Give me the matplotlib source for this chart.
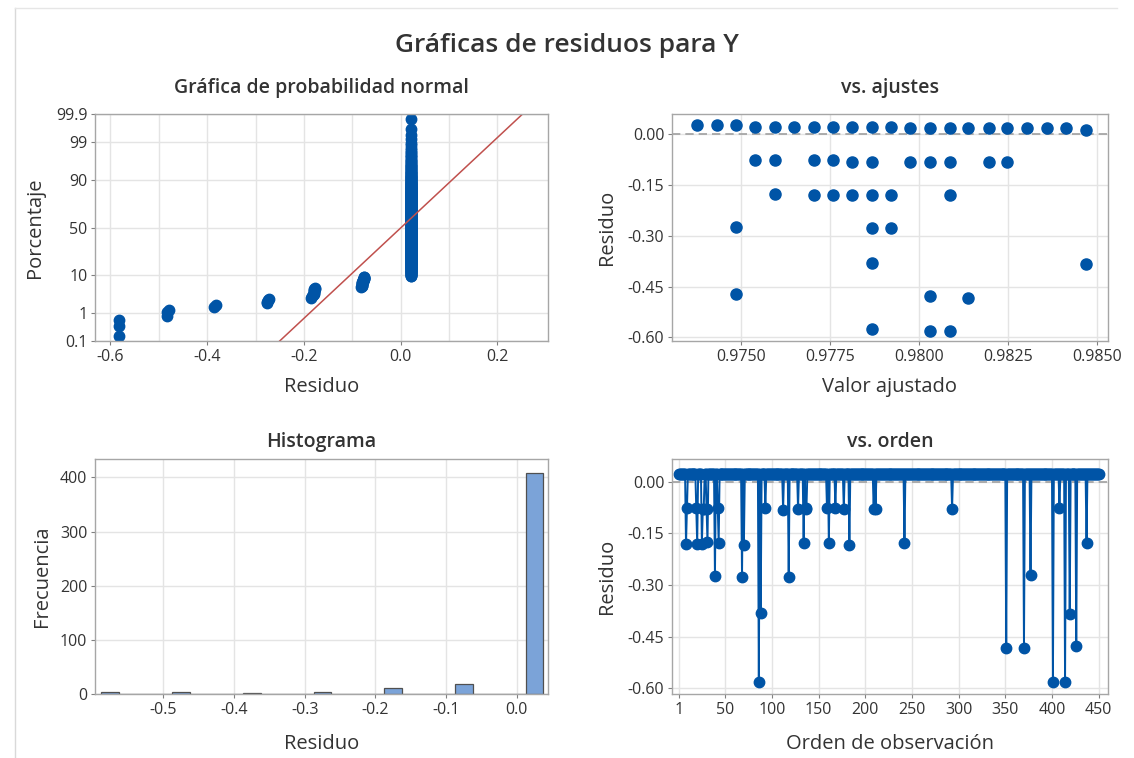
from statistics import NormalDist

import matplotlib
matplotlib.use("Agg")
import matplotlib.pyplot as plt
import numpy as np
from matplotlib.lines import Line2D

plt.rcParams["font.family"] = ["Open Sans", "DejaVu Sans"]

BLUE = "#0054A6"
TXT = "#333333"
GRID = "#E4E4E4"
SPINE = "#A6A6A6"
TICK_FS = 11.5
LAB_FS = 14.5
SUB_FS = 14

# ---- data ------------------------------------------------------------------
n_obs = 450
base_resid = 0.022  # residual of the bulk of the observations

# observations that stand out in the "vs. orden" panel
out_obs = [8, 9, 19, 20, 25, 26, 27, 30, 31, 39, 42, 43, 68, 70, 86, 88, 93,
           112, 118, 128, 134, 136, 137, 159, 161, 168, 177, 183, 209, 211,
           242, 293, 351, 370, 377, 401, 408, 414, 419, 426, 437]
out_resid = [-0.182, -0.075, -0.076, -0.180, -0.180, -0.080, -0.078, -0.080,
             -0.176, -0.275, -0.075, -0.178, -0.276, -0.184, -0.582, -0.381,
             -0.076, -0.082, -0.276, -0.080, -0.178, -0.079, -0.077, -0.077,
             -0.177, -0.075, -0.078, -0.185, -0.079, -0.079, -0.178, -0.079,
             -0.483, -0.483, -0.272, -0.582, -0.076, -0.582, -0.385, -0.478,
             -0.178]

# "vs. ajustes" panel: fitted value / residual pairs
fit_vals = [0.97375, 0.97431, 0.97485, 0.97538, 0.97594, 0.97647, 0.97703,
            0.97756, 0.97811, 0.97867, 0.97921, 0.97975, 0.98031, 0.98085,
            0.98138, 0.98195, 0.98247, 0.98303, 0.98358, 0.98411, 0.98469,
            0.97538, 0.97594, 0.97703, 0.97756, 0.97811, 0.97867, 0.97975,
            0.98031, 0.98085, 0.98195, 0.98247,
            0.97594, 0.97703, 0.97756, 0.97811, 0.97867, 0.97921, 0.98085,
            0.97485, 0.97867, 0.97921,
            0.97867, 0.98469,
            0.97485, 0.98031, 0.98138,
            0.97867, 0.98031, 0.98085]
fit_resid = [0.028, 0.028, 0.028, 0.023, 0.023, 0.023, 0.023, 0.023, 0.023,
             0.023, 0.023, 0.018, 0.018, 0.018, 0.018, 0.018, 0.018, 0.018,
             0.018, 0.018, 0.014,
             -0.076, -0.076, -0.076, -0.076, -0.081, -0.081, -0.081, -0.081,
             -0.081, -0.081, -0.081,
             -0.175, -0.180, -0.180, -0.180, -0.180, -0.180, -0.180,
             -0.273, -0.276, -0.276,
             -0.379, -0.384,
             -0.473, -0.479, -0.483,
             -0.575, -0.580, -0.580]

prob_ticks = [0.1, 1, 10, 50, 90, 99, 99.9]
prob_labels = ["0.1", "1", "10", "50", "90", "99", "99.9"]
order_ticks = [1, 50, 100, 150, 200, 250, 300, 350, 400, 450]
hist_edges = np.arange(-0.5875, 0.05, 0.025)

# ---- assemble residual series ----------------------------------------------
order = np.arange(1, n_obs + 1)
resid = np.full(n_obs, base_resid)
resid[np.array(out_obs) - 1] = out_resid

nd = NormalDist()


def z_of(p):
    return nd.inv_cdf(p)


def style_axes(ax):
    for s in ax.spines.values():
        s.set_color(SPINE)
        s.set_linewidth(1.0)
    ax.tick_params(colors=TXT, labelcolor=TXT, labelsize=TICK_FS, length=3,
                   width=0.8, color="#808080", pad=2.5)
    ax.grid(True, color=GRID, linewidth=1.0)
    ax.set_axisbelow(True)


W, H = 1134, 758
fig = plt.figure(figsize=(W / 100, H / 100), dpi=100)


def add_ax(left, top, right, bottom):
    return fig.add_axes([left / W, 1 - bottom / H, (right - left) / W,
                         (bottom - top) / H])


fig.add_artist(Line2D([15 / W, 15 / W], [0, 1 - 8 / H], color="#D9D9D9",
                      lw=1, transform=fig.transFigure))
fig.add_artist(Line2D([15 / W, 1117 / W], [1 - 8 / H, 1 - 8 / H],
                      color="#E6E6E6", lw=1, transform=fig.transFigure))

fig.text(0.5, 1 - 46 / H, "Gráficas de residuos para Y", ha="center",
         va="center", fontsize=19, fontweight="semibold", color=TXT)

# ---- normal probability plot -----------------------------------------------
ax1 = add_ax(95, 114, 548, 341)
srt = np.sort(resid)
pp = [(i - 0.3) / (n_obs + 0.4) for i in range(1, n_obs + 1)]
zz = [z_of(p) for p in pp]
ax1.plot(srt, zz, "o", color=BLUE, ms=7.5, mec=BLUE)
mu, sd = resid.mean(), resid.std(ddof=1)
zl = np.array([-4.0, 4.0])
ax1.plot(mu + zl * sd, zl, color="#C0504D", lw=1.1)
ax1.set_xlim(-0.632, 0.305)
ax1.set_ylim(z_of(0.001), z_of(0.999))
ax1.set_yticks([z_of(p / 100) for p in prob_ticks])
ax1.set_yticklabels(prob_labels)
ax1.set_xticks([-0.6, -0.4, -0.2, 0.0, 0.2])
ax1.set_xticklabels(["-0.6", "-0.4", "-0.2", "0.0", "0.2"])
ax1.set_xticks([-0.5, -0.3, -0.1, 0.1], minor=True)
style_axes(ax1)
ax1.tick_params(which="minor", length=0)
ax1.grid(True, which="minor", color=GRID, linewidth=1.0)
ax1.set_title("Gráfica de probabilidad normal", fontsize=SUB_FS,
              fontweight="semibold", color=TXT, pad=15)
ax1.set_xlabel("Residuo", fontsize=LAB_FS, color=TXT, labelpad=9)
ax1.set_ylabel("Porcentaje", fontsize=LAB_FS, color=TXT, labelpad=8)

# ---- vs. fits ---------------------------------------------------------------
ax2 = add_ax(672, 114, 1108, 341)
ax2.axhline(0, color="#A0A0A0", lw=1.2, ls=(0, (5, 3)))
ax2.plot(fit_vals, fit_resid, "o", color=BLUE, ms=8, mec=BLUE)
ax2.set_xlim(0.97305, 0.98530)
ax2.set_ylim(-0.611, 0.060)
ax2.set_xticks([0.975, 0.9775, 0.98, 0.9825, 0.985])
ax2.set_xticklabels(["0.9750", "0.9775", "0.9800", "0.9825", "0.9850"])
ax2.set_yticks([0.0, -0.15, -0.30, -0.45, -0.60])
ax2.set_yticklabels(["0.00", "-0.15", "-0.30", "-0.45", "-0.60"])
style_axes(ax2)
ax2.set_title("vs. ajustes", fontsize=SUB_FS, fontweight="semibold",
              color=TXT, pad=15)
ax2.set_xlabel("Valor ajustado", fontsize=LAB_FS, color=TXT, labelpad=9)
ax2.set_ylabel("Residuo", fontsize=LAB_FS, color=TXT, labelpad=8)

# ---- histogram --------------------------------------------------------------
ax3 = add_ax(95, 459, 548, 694)
ax3.hist(resid, bins=hist_edges, color="#7BA3D8", edgecolor="#505050",
         linewidth=0.9)
ax3.set_xlim(-0.5966, 0.0440)
ax3.set_ylim(0, 434)
ax3.set_xticks([-0.5, -0.4, -0.3, -0.2, -0.1, 0.0])
ax3.set_xticklabels(["-0.5", "-0.4", "-0.3", "-0.2", "-0.1", "0.0"])
ax3.set_yticks([0, 100, 200, 300, 400])
style_axes(ax3)
ax3.set_title("Histograma", fontsize=SUB_FS, fontweight="semibold",
              color=TXT, pad=9)
ax3.set_xlabel("Residuo", fontsize=LAB_FS, color=TXT, labelpad=12)
ax3.set_ylabel("Frecuencia", fontsize=LAB_FS, color=TXT, labelpad=6)

# ---- vs. order --------------------------------------------------------------
ax4 = add_ax(672, 459, 1108, 694)
ax4.axhline(0, color="#A0A0A0", lw=1.2, ls=(0, (5, 3)))
ax4.plot(order, resid, "-o", color=BLUE, lw=1.4, ms=7.5, mec=BLUE)
ax4.set_xlim(-7, 460)
ax4.set_ylim(-0.617, 0.066)
ax4.set_xticks(order_ticks)
ax4.set_yticks([0.0, -0.15, -0.30, -0.45, -0.60])
ax4.set_yticklabels(["0.00", "-0.15", "-0.30", "-0.45", "-0.60"])
style_axes(ax4)
ax4.set_title("vs. orden", fontsize=SUB_FS, fontweight="semibold", color=TXT,
              pad=9)
ax4.set_xlabel("Orden de observación", fontsize=LAB_FS, color=TXT,
               labelpad=12)
ax4.set_ylabel("Residuo", fontsize=LAB_FS, color=TXT, labelpad=8)

fig.savefig("out.png", dpi=100, facecolor="white")
